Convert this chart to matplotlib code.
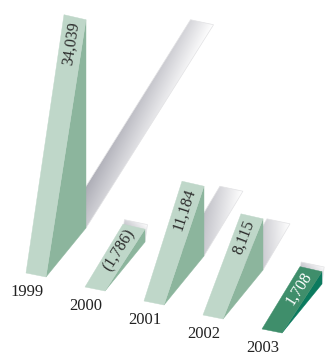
import numpy as np
import matplotlib
matplotlib.use("Agg")
import matplotlib.pyplot as plt
from matplotlib.patches import Polygon

# ---- data -------------------------------------------------------------
years = ["1999", "2000", "2001", "2002", "2003"]
values = [34039, -1786, 11184, 8115, 1708]
value_labels = ["34,039", "(1,786)", "11,184", "8,115", "1,708"]
highlight = [False, False, False, False, True]

# ---- canvas in pixel units ------------------------------------------
W, H = 325, 354
fig = plt.figure(figsize=(W / 100, H / 100), dpi=100)
ax = fig.add_axes([0, 0, 1, 1])
ax.set_xlim(0, W)
ax.set_ylim(H, 0)
ax.axis("off")

SERIF = ["Liberation Serif", "DejaVu Serif"]

# geometry of the slanted blocks
PX_PER_UNIT = 0.00606     # bar length per unit of value
BASE_LEN = 51             # length of the wedge foot
LEAN = 40                 # horizontal lean from foot to top
FRONT_W = 20              # width of the front face at the foot
DEPTH = (40, -49)         # side-face depth vector at the foot
STEP = (59, 14)           # offset between consecutive blocks
ORIGIN = (26, 273)        # front-left foot of the first block

LIGHT_FRONT, LIGHT_SIDE = "#bfd7c9", "#8cb59d"
DARK_FRONT, DARK_SIDE = "#3f8e6b", "#0b7a5e"
SHADOW_DARK = np.array([0.64, 0.64, 0.68])


def shadow(ax, q, d, w):
    """Gradient-filled parallelogram q + u*d + v*w, u,v in [0,1]."""
    corners = np.array([q, q + w, q + w + d, q + d])
    x0, y0 = corners.min(axis=0)
    x1, y1 = corners.max(axis=0)
    nx, ny = int((x1 - x0) * 2) + 2, int((y1 - y0) * 2) + 2
    xs = np.linspace(x0, x1, nx)
    ys = np.linspace(y0, y1, ny)
    X, Y = np.meshgrid(xs, ys)
    M = np.array([[d[0], w[0]], [d[1], w[1]]])
    Minv = np.linalg.inv(M)
    px, py = X - q[0], Y - q[1]
    u = Minv[0, 0] * px + Minv[0, 1] * py
    v = Minv[1, 0] * px + Minv[1, 1] * py
    f = np.clip(0.55 * u + 0.45 * v, 0, 1)[..., None]
    img = SHADOW_DARK * (1 - f) + 1.0 * f
    poly = Polygon(corners, closed=True, facecolor="none",
                   edgecolor="#e2e2e4", lw=0.5, zorder=1)
    ax.add_patch(poly)
    im = ax.imshow(img, extent=(x0, x1, y1, y0), origin="upper",
                   interpolation="bilinear", aspect="auto", zorder=0.5)
    im.set_clip_path(poly)


blocks = []
for i, (val, hl) in enumerate(zip(values, highlight)):
    bl = np.array([ORIGIN[0] + STEP[0] * i, ORIGIN[1] + STEP[1] * i], float)
    br = bl + np.array([FRONT_W, 4.0])
    length = BASE_LEN + PX_PER_UNIT * abs(val)
    tr = np.array([br[0] + LEAN, br[1] - length])
    tl = tr - np.array([22.0, 5.0])
    foot = np.array([tr[0], br[1] + DEPTH[1]])
    blocks.append((bl, br, tr, tl, foot, length, hl))

    # cast shadow behind the block
    p1 = np.array([tr[0] + 0.64 * (length - 58),
                   tr[1] + min(5.0, 0.25 * (length - 80))])
    wv = np.array([23.0, 5.0])
    shadow(ax, foot - wv, p1 - foot, wv)

for i, (bl, br, tr, tl, foot, length, hl) in enumerate(blocks):
    front_c = DARK_FRONT if hl else LIGHT_FRONT
    side_c = DARK_SIDE if hl else LIGHT_SIDE
    ax.add_patch(Polygon([br, foot, tr], closed=True, facecolor=side_c,
                         edgecolor=side_c, lw=0.3, zorder=2))
    ax.add_patch(Polygon([bl, br, tr, tl], closed=True, facecolor=front_c,
                         edgecolor=front_c, lw=0.3, zorder=3))

    # value text running up the front face
    bot_mid = (bl + br) / 2
    top_mid = (tl + tr) / 2
    vec = top_mid - bot_mid
    e = vec / np.hypot(*vec)
    angle = np.degrees(np.arctan2(-vec[1], vec[0]))
    anchor = top_mid - e * 5
    ax.text(anchor[0], anchor[1], value_labels[i], rotation=angle,
            rotation_mode="anchor", ha="right", va="center",
            fontsize=11.5, family=SERIF,
            color="white" if hl else "#2b2b2b", zorder=4)

    # year label under the foot
    ax.text(bl[0] + 1, bl[1] + 19, years[i], ha="center", va="center",
            fontsize=12, family=SERIF, color="#222222", zorder=4)

ax.set_xlim(0, W)
ax.set_ylim(H, 0)
fig.savefig("out.png", dpi=100)
